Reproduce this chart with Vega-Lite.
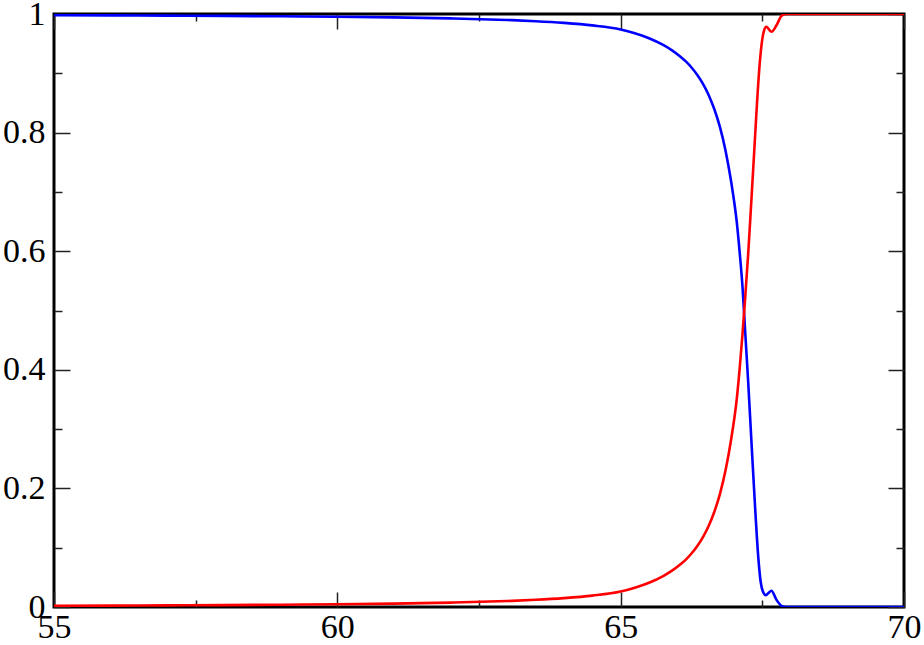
{
  "$schema": "https://vega.github.io/schema/vega-lite/v6.json",
  "autosize": {"type": "none"},
  "padding": {"left": 54, "top": 14, "right": 20, "bottom": 38},
  "width": 850,
  "height": 593,
  "background": "white",
  "config": {
    "view": {"stroke": "black", "strokeWidth": 3},
    "axis": {
      "domain": false,
      "grid": false,
      "labelFont": "Liberation Serif",
      "labelFontSize": 34,
      "labelColor": "black",
      "tickColor": "#222",
      "tickWidth": 1.5,
      "labelOverlap": false,
      "labelFlush": false,
      "title": null
    }
  },
  "data": {
    "values": [
      {"x": 55, "y": 0.9979, "s": "blue"}, {"x": 56, "y": 0.9976, "s": "blue"}, {"x": 57, "y": 0.9972, "s": "blue"},
      {"x": 58, "y": 0.9968, "s": "blue"}, {"x": 59, "y": 0.9962, "s": "blue"}, {"x": 60, "y": 0.9954, "s": "blue"},
      {"x": 61, "y": 0.9943, "s": "blue"}, {"x": 62, "y": 0.9926, "s": "blue"}, {"x": 63, "y": 0.9899, "s": "blue"},
      {"x": 63.5, "y": 0.9879, "s": "blue"}, {"x": 64, "y": 0.985, "s": "blue"}, {"x": 64.5, "y": 0.9808, "s": "blue"},
      {"x": 65, "y": 0.974, "s": "blue"}, {"x": 65.25, "y": 0.9676, "s": "blue"}, {"x": 65.5, "y": 0.9592, "s": "blue"},
      {"x": 65.75, "y": 0.9479, "s": "blue"}, {"x": 65.9, "y": 0.9392, "s": "blue"}, {"x": 66.05, "y": 0.9285, "s": "blue"},
      {"x": 66.15, "y": 0.920, "s": "blue"}, {"x": 66.25, "y": 0.9098, "s": "blue"}, {"x": 66.35, "y": 0.8976, "s": "blue"},
      {"x": 66.45, "y": 0.8826, "s": "blue"}, {"x": 66.55, "y": 0.8639, "s": "blue"}, {"x": 66.65, "y": 0.8402, "s": "blue"},
      {"x": 66.75, "y": 0.810, "s": "blue"}, {"x": 66.85, "y": 0.770, "s": "blue"}, {"x": 66.95, "y": 0.717, "s": "blue"},
      {"x": 67.05, "y": 0.648, "s": "blue"}, {"x": 67.1, "y": 0.598, "s": "blue"}, {"x": 67.15, "y": 0.540, "s": "blue"},
      {"x": 67.2, "y": 0.46, "s": "blue"}, {"x": 67.25, "y": 0.38, "s": "blue"}, {"x": 67.31, "y": 0.275, "s": "blue"},
      {"x": 67.37, "y": 0.172, "s": "blue"}, {"x": 67.43, "y": 0.082, "s": "blue"}, {"x": 67.47, "y": 0.043, "s": "blue"},
      {"x": 67.51, "y": 0.026, "s": "blue"}, {"x": 67.56, "y": 0.020, "s": "blue"}, {"x": 67.66, "y": 0.0275, "s": "blue"},
      {"x": 67.75, "y": 0.012, "s": "blue"}, {"x": 67.84, "y": 0.002, "s": "blue"}, {"x": 67.92, "y": 0.0, "s": "blue"},
      {"x": 68.5, "y": 0.0, "s": "blue"}, {"x": 70, "y": 0.0, "s": "blue"},
      {"x": 55, "y": 0.0021, "s": "red"}, {"x": 56, "y": 0.0024, "s": "red"}, {"x": 57, "y": 0.0028, "s": "red"},
      {"x": 58, "y": 0.0032, "s": "red"}, {"x": 59, "y": 0.0038, "s": "red"}, {"x": 60, "y": 0.0046, "s": "red"},
      {"x": 61, "y": 0.0057, "s": "red"}, {"x": 62, "y": 0.0074, "s": "red"}, {"x": 63, "y": 0.0101, "s": "red"},
      {"x": 63.5, "y": 0.0121, "s": "red"}, {"x": 64, "y": 0.0150, "s": "red"}, {"x": 64.5, "y": 0.0192, "s": "red"},
      {"x": 65, "y": 0.026, "s": "red"}, {"x": 65.25, "y": 0.0324, "s": "red"}, {"x": 65.5, "y": 0.0408, "s": "red"},
      {"x": 65.75, "y": 0.0521, "s": "red"}, {"x": 65.9, "y": 0.0608, "s": "red"}, {"x": 66.05, "y": 0.0715, "s": "red"},
      {"x": 66.15, "y": 0.080, "s": "red"}, {"x": 66.25, "y": 0.0902, "s": "red"}, {"x": 66.35, "y": 0.1024, "s": "red"},
      {"x": 66.45, "y": 0.1174, "s": "red"}, {"x": 66.55, "y": 0.1361, "s": "red"}, {"x": 66.65, "y": 0.1598, "s": "red"},
      {"x": 66.75, "y": 0.190, "s": "red"}, {"x": 66.85, "y": 0.230, "s": "red"}, {"x": 66.95, "y": 0.283, "s": "red"},
      {"x": 67.05, "y": 0.352, "s": "red"}, {"x": 67.1, "y": 0.402, "s": "red"}, {"x": 67.15, "y": 0.46, "s": "red"},
      {"x": 67.2, "y": 0.525, "s": "red"}, {"x": 67.25, "y": 0.595, "s": "red"}, {"x": 67.3, "y": 0.675, "s": "red"},
      {"x": 67.35, "y": 0.757, "s": "red"}, {"x": 67.4, "y": 0.84, "s": "red"}, {"x": 67.45, "y": 0.912, "s": "red"},
      {"x": 67.5, "y": 0.958, "s": "red"}, {"x": 67.53, "y": 0.972, "s": "red"}, {"x": 67.57, "y": 0.9786, "s": "red"},
      {"x": 67.66, "y": 0.970, "s": "red"}, {"x": 67.75, "y": 0.981, "s": "red"}, {"x": 67.84, "y": 0.997, "s": "red"},
      {"x": 67.92, "y": 1.0, "s": "red"}, {"x": 68.5, "y": 1.0, "s": "red"}, {"x": 70, "y": 1.0, "s": "red"}
    ]
  },
  "resolve": {"axis": {"x": "independent", "y": "independent"}},
  "layer": [
    {
      "transform": [{"filter": "datum.s === 'blue'"}],
      "mark": {"type": "line", "color": "#0000ff", "strokeWidth": 2.6, "interpolate": "monotone", "clip": true},
      "encoding": {
        "x": {"field": "x", "type": "quantitative", "scale": {"domain": [55, 70], "nice": false, "zero": false},
          "axis": {"orient": "bottom", "values": [55, 57.5, 60, 62.5, 65, 67.5, 70],
            "labelExpr": "datum.value % 5 === 0 ? datum.value : ''",
            "tickSize": {"condition": {"test": "datum.value % 5 !== 0", "value": -7}, "value": -15},
            "labelPadding": 18}},
        "y": {"field": "y", "type": "quantitative", "scale": {"domain": [0, 1], "nice": false},
          "axis": {"orient": "left", "values": [0, 0.1, 0.2, 0.3, 0.4, 0.5, 0.6, 0.7, 0.8, 0.9, 1],
            "labelExpr": "round(datum.value * 10) % 2 === 0 ? format(datum.value, '~g') : ''",
            "tickSize": {"condition": {"test": "round(datum.value * 10) % 2 !== 0", "value": -8}, "value": -16},
            "labelPadding": 25}}
      }
    },
    {
      "transform": [{"filter": "datum.s === 'red'"}],
      "mark": {"type": "line", "color": "#ff0000", "strokeWidth": 2.6, "interpolate": "monotone", "clip": true},
      "encoding": {
        "x": {"field": "x", "type": "quantitative", "scale": {"domain": [55, 70], "nice": false, "zero": false},
          "axis": {"orient": "top", "values": [55, 57.5, 60, 62.5, 65, 67.5, 70], "labels": false,
            "tickSize": {"condition": {"test": "datum.value % 5 !== 0", "value": -7}, "value": -15}}},
        "y": {"field": "y", "type": "quantitative", "scale": {"domain": [0, 1], "nice": false},
          "axis": {"orient": "right", "values": [0, 0.1, 0.2, 0.3, 0.4, 0.5, 0.6, 0.7, 0.8, 0.9, 1], "labels": false,
            "tickSize": {"condition": {"test": "round(datum.value * 10) % 2 !== 0", "value": -8}, "value": -16}}}
      }
    }
  ]
}
